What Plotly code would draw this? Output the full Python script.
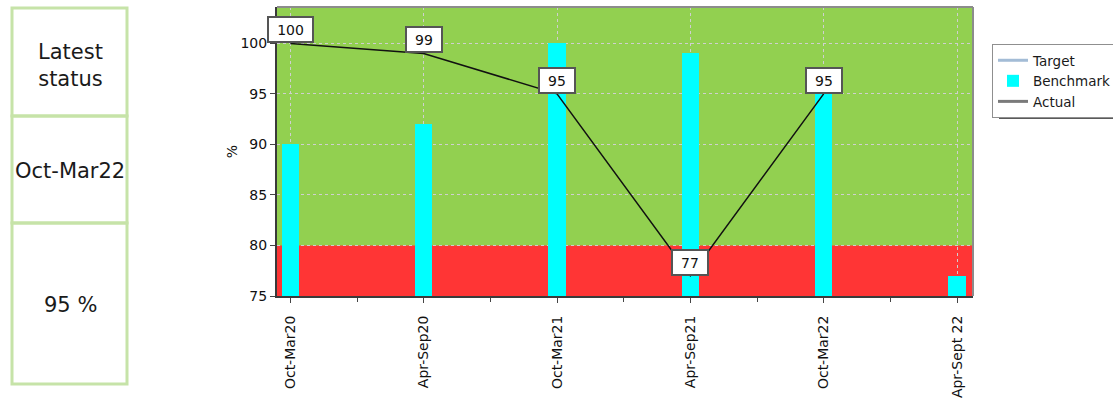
import plotly.graph_objects as go

# ---------------- data ----------------
categories = ["Oct-Mar20", "Apr-Sep20", "Oct-Mar21", "Apr-Sep21", "Oct-Mar22", "Apr-Sept 22"]
benchmark = [90, 92, 100, 99, 95, 77]
actual = [100, 99, 95, 77, 95, None]
threshold = 80          # red band upper edge
y_min, y_max = 75, 103.6
y_ticks = [75, 80, 85, 90, 95, 100]
status_label = ["Latest<br>status", "Oct-Mar22", "95 %"]

# ---------------- layout geometry (pixels) ----------------
W, H = 1113, 404
L, R, T, B = 277, 973, 7, 296


def px_x(px):
    return (px - L) / (R - L)


def px_y(py):
    return (B - py) / (B - T)


FONT = "DejaVu Sans"
idx = list(range(len(categories)))

fig = go.Figure()

fig.add_trace(go.Scatter(x=[None], y=[None], mode="lines", name="Target",
                         line=dict(color="#a3bcd6", width=3)))
fig.add_trace(go.Bar(x=idx, y=benchmark, name="Benchmark", width=0.13,
                     marker=dict(color="#00ffff", line=dict(width=0))))
fig.add_trace(go.Scatter(x=[None], y=[None], mode="lines", name="Actual",
                         line=dict(color="#7a7a7a", width=3)))
fig.add_trace(go.Scatter(x=idx, y=actual, mode="lines", name="Actual",
                         showlegend=False, line=dict(color="#111111", width=1.5)))

annotations = []
for i, v in enumerate(actual):
    if v is None:
        continue
    txt = str(v)
    annotations.append(dict(
        x=i, y=v, xref="x", yref="y", text=txt, showarrow=False,
        xanchor="center", yanchor="bottom",
        font=dict(family=FONT, size=14, color="#111111"),
        bgcolor="white", bordercolor="#555555", borderwidth=2, borderpad=2,
        width=len(txt) * 9 + 12, height=19,
    ))

# left status panel text
panel_y = [65, 171, 305]
for txt, py in zip(status_label, panel_y):
    annotations.append(dict(
        x=px_x(70), y=px_y(py), xref="paper", yref="paper", text=txt,
        showarrow=False, xanchor="center", yanchor="middle",
        font=dict(family=FONT, size=21, color="#1a1a1a"),
    ))

shapes = []
# red band
shapes.append(dict(type="rect", xref="x domain", yref="y", x0=0, x1=1,
                   y0=y_min, y1=threshold, fillcolor="#ff3535",
                   line=dict(width=0), layer="below"))
# top / right frame
shapes.append(dict(type="line", xref="paper", yref="paper", x0=0, x1=1, y0=1, y1=1,
                   line=dict(color="#8c8c8c", width=2), layer="above"))
shapes.append(dict(type="line", xref="paper", yref="paper", x0=1, x1=1, y0=0, y1=1,
                   line=dict(color="#8c8c8c", width=2), layer="above"))
# panel cells
cell_edges = [8, 116, 223, 384]
for top, bot in zip(cell_edges[:-1], cell_edges[1:]):
    shapes.append(dict(type="rect", xref="paper", yref="paper",
                       x0=px_x(12), x1=px_x(127), y0=px_y(bot), y1=px_y(top),
                       line=dict(color="#c6e3a8", width=3), fillcolor="rgba(0,0,0,0)"))
# legend shadow
shapes.append(dict(type="rect", xref="paper", yref="paper",
                   x0=px_x(999), x1=px_x(1200), y0=px_y(119), y1=px_y(50),
                   fillcolor="#5a5a5a", line=dict(width=0), layer="above"))

axis_font = dict(family=FONT, size=14, color="#111111")

fig.update_layout(
    width=W, height=H,
    margin=dict(l=L, r=W - R, t=T, b=H - B, autoexpand=False),
    paper_bgcolor="white", plot_bgcolor="#92d050",
    showlegend=True,
    legend=dict(x=px_x(992), y=px_y(44), xanchor="left", yanchor="top",
                bgcolor="white", bordercolor="#8f8f8f", borderwidth=1,
                font=dict(family=FONT, size=13.5, color="#1a1a1a"),
                traceorder="normal", tracegroupgap=0),
    annotations=annotations,
    shapes=shapes,
    bargap=0,
    xaxis=dict(range=[-0.1, 5.12], tickmode="array", tickvals=idx, ticktext=categories,
               tickangle=-90, ticks="outside", ticklen=5, tickcolor="#444444",
               ticklabelstandoff=7,
               showline=True, linecolor="#3a3a3a", linewidth=2,
               showgrid=True, gridcolor="#cfcfcf", griddash="dot", gridwidth=1.3,
               zeroline=False, tickfont=axis_font,
               minor=dict(dtick=0.5, tick0=0, ticks="outside", ticklen=4,
                          tickcolor="#444444", showgrid=False)),
    yaxis=dict(range=[y_min, y_max], tickmode="array", tickvals=y_ticks,
               ticks="outside", ticklen=5, tickcolor="#444444",
               showline=True, linecolor="#3a3a3a", linewidth=2,
               showgrid=True, gridcolor="#cfcfcf", griddash="dot", gridwidth=1.3,
               zeroline=False, tickfont=axis_font,
               title=dict(text="%", font=axis_font, standoff=0)),
)

fig.write_html("out.html")
